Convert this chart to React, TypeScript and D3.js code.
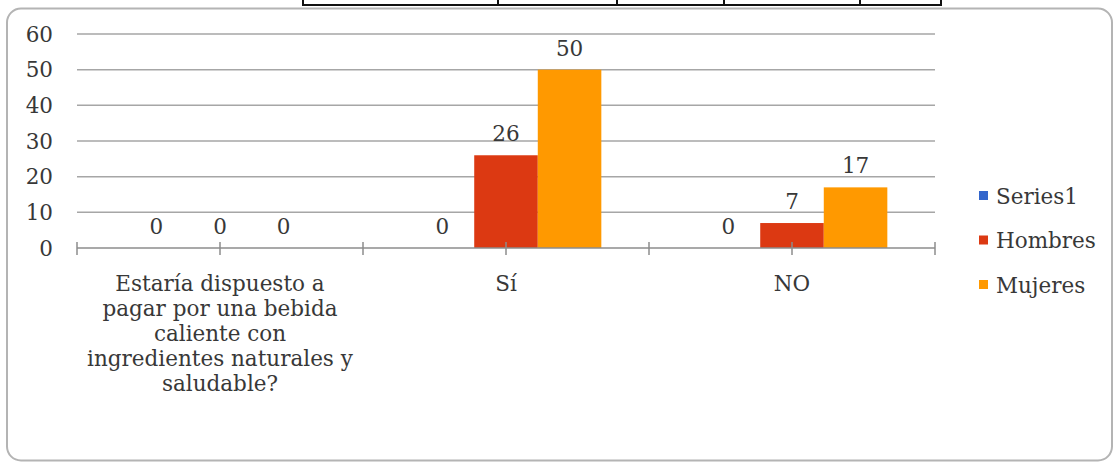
import React from "react";
import * as d3 from "d3";

const categories = ["pregunta", "Sí", "NO"];
const categoryLines: string[][] = [
  ["Estaría dispuesto a", "pagar por una bebida", "caliente con", "ingredientes naturales y", "saludable?"],
  ["Sí"],
  ["NO"],
];
const seriesNames = ["Series1", "Hombres", "Mujeres"];
const series1Values = [0, 0, 0];
const hombresValues = [0, 26, 7];
const mujeresValues = [0, 50, 17];
const seriesColors = ["#3366CC", "#DC3912", "#FF9900"];
const yTicks = [0, 10, 20, 30, 40, 50, 60];
const tableColumnEdges = [303, 498, 617, 724, 860, 941];

const FONT = "'DejaVu Serif', serif";
const TEXT = "#383838";
const FS = 21.5;

export default function App() {
  const W = 1116;
  const H = 466;
  const plotLeft = 77;
  const plotRight = 935;
  const y = d3.scaleLinear().domain([0, 60]).range([248, 34]);
  const x = d3.scaleBand<string>().domain(categories).range([plotLeft, plotRight]).padding(0);
  const xs = d3
    .scaleBand<string>()
    .domain(seriesNames)
    .range([0, x.bandwidth()])
    .paddingInner(0)
    .paddingOuter(0.75);
  const allSeries = [series1Values, hombresValues, mujeresValues];

  const tickXs: number[] = [];
  categories.forEach((c) => {
    tickXs.push(x(c)!);
    tickXs.push(x(c)! + x.bandwidth() / 2);
  });
  tickXs.push(plotRight);

  return (
    <svg
      width={W}
      height={H}
      style={{ position: "absolute", left: 0, top: 0, background: "#fff" }}
      fontFamily={FONT}
    >
      <rect x={0} y={0} width={W} height={H} fill="#fff" />
      {/* table fragment at top */}
      <line x1={tableColumnEdges[0]} x2={tableColumnEdges[tableColumnEdges.length - 1]} y1={5} y2={5} stroke="#111" strokeWidth={2} />
      {tableColumnEdges.map((tx, i) => (
        <line key={"tc" + i} x1={tx} x2={tx} y1={0} y2={6} stroke="#111" strokeWidth={2} />
      ))}
      {/* chart frame */}
      <rect x={7} y={8.5} width={1105} height={452} rx={14} ry={14} fill="#fff" stroke="#b4b4b4" strokeWidth={2} />
      {/* gridlines */}
      {yTicks
        .filter((t) => t > 0)
        .map((t) => (
          <line key={"g" + t} x1={plotLeft} x2={plotRight} y1={y(t)} y2={y(t)} stroke="#a6a6a6" strokeWidth={1.5} />
        ))}
      {/* y labels */}
      {yTicks.map((t) => (
        <text key={"yl" + t} x={53} y={y(t) + 7.5} textAnchor="end" fontSize={FS} fill={TEXT}>
          {t}
        </text>
      ))}
      {/* bars */}
      {categories.map((c, ci) =>
        seriesNames.map((s, si) => {
          const v = allSeries[si][ci];
          const bx = x(c)! + xs(s)!;
          const top = y(v);
          return (
            <g key={c + s}>
              {v > 0 && (
                <rect x={bx} y={top} width={xs.bandwidth()} height={y(0) - top} fill={seriesColors[si]} />
              )}
              <text x={bx + xs.bandwidth() / 2} y={top - 14} textAnchor="middle" fontSize={FS} fill={TEXT}>
                {v}
              </text>
            </g>
          );
        })
      )}
      {/* x axis */}
      <line x1={plotLeft} x2={plotRight} y1={y(0)} y2={y(0)} stroke="#8c8c8c" strokeWidth={1.5} />
      {tickXs.map((tx, i) => (
        <line key={"t" + i} x1={tx} x2={tx} y1={y(0) - 6} y2={y(0) + 7} stroke="#8c8c8c" strokeWidth={1.5} />
      ))}
      {/* category labels */}
      {categories.map((c, ci) => (
        <text key={"cl" + c} textAnchor="middle" fontSize={FS} fill={TEXT}>
          {categoryLines[ci].map((line, li) => (
            <tspan key={li} x={x(c)! + x.bandwidth() / 2} y={291 + li * 25}>
              {line}
            </tspan>
          ))}
        </text>
      ))}
      {/* legend */}
      {seriesNames.map((s, si) => (
        <g key={"lg" + s} transform={`translate(979, ${196 + si * 44.5})`}>
          <rect x={0} y={-5} width={9} height={9} fill={seriesColors[si]} />
          <text x={17} y={7.5} fontSize={FS} fill={TEXT}>
            {s}
          </text>
        </g>
      ))}
    </svg>
  );
}
